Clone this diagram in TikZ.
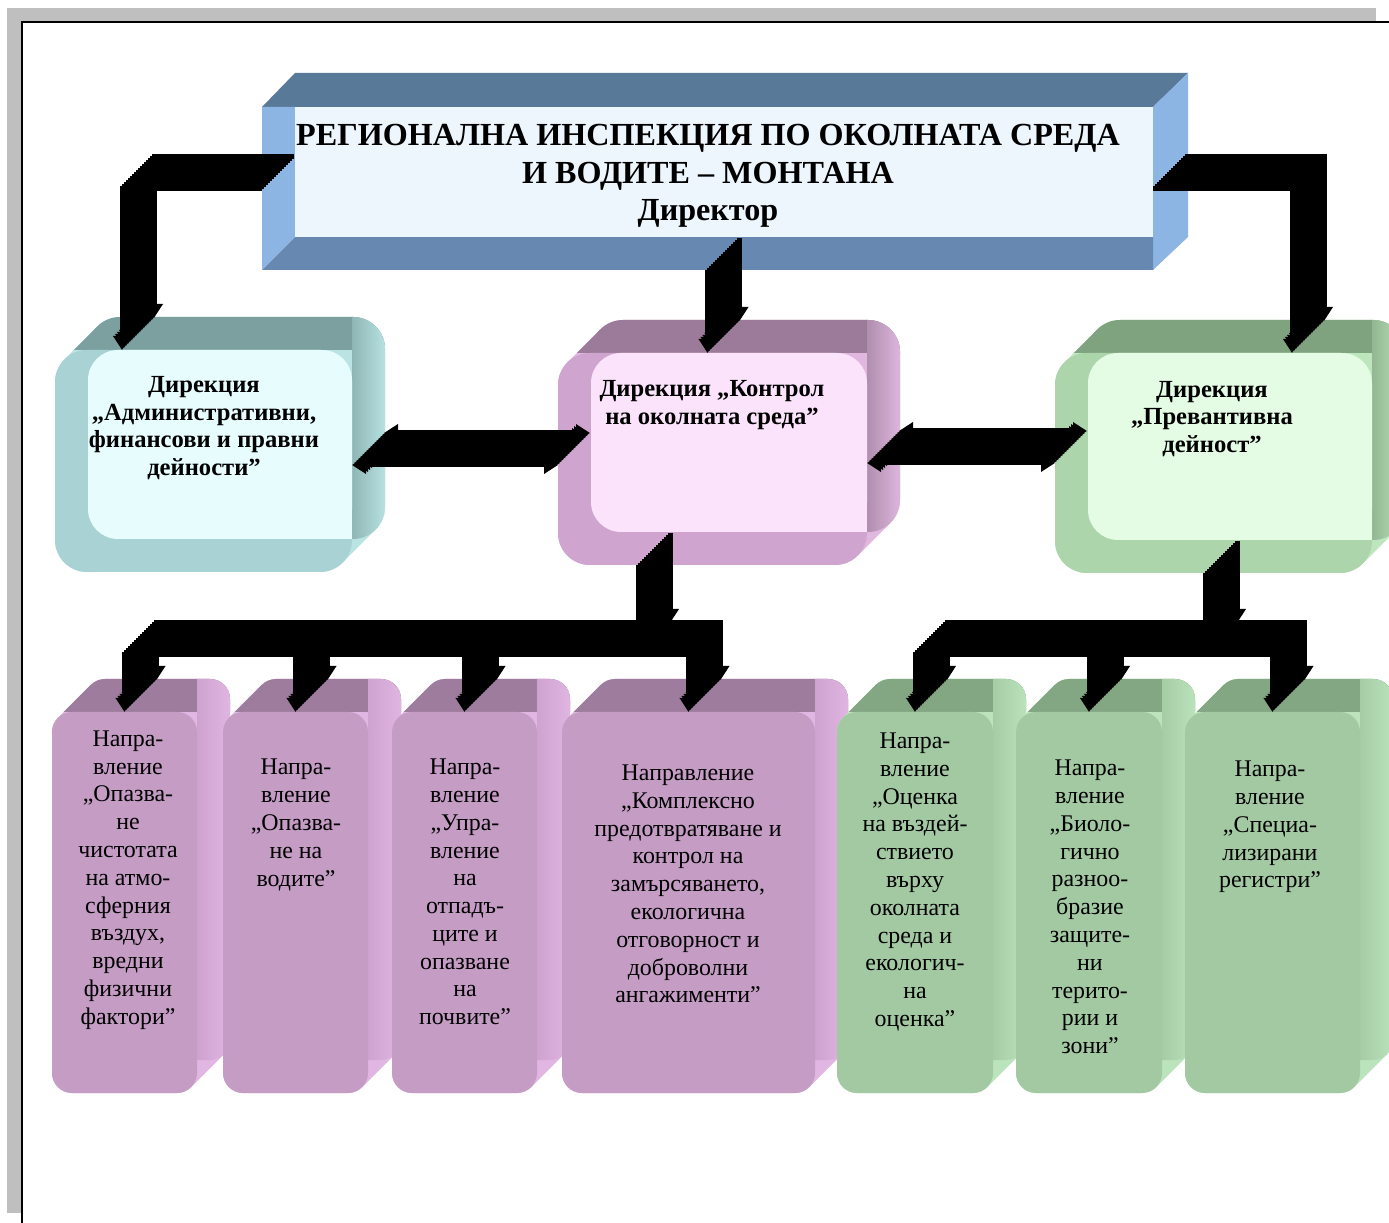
\documentclass[tikz,border=0pt]{standalone}
\usepackage{fontspec}
\setmainfont{Liberation Serif}
\usetikzlibrary{arrows.meta, calc, positioning}

% colours
\definecolor{framegray}{HTML}{BFBFBF}
\definecolor{hdtop}{HTML}{587A98}
\definecolor{hdbot}{HTML}{6788B0}
\definecolor{hdside}{HTML}{8DB5E3}
\definecolor{hdface}{HTML}{EEF6FD}
\definecolor{cytop}{HTML}{7BA09F}
\definecolor{cysd}{HTML}{8EB6B5}
\definecolor{cyside}{HTML}{BAE3E3}
\definecolor{cyfront}{HTML}{A8D2D3}
\definecolor{cypanel}{HTML}{E7FDFD}
\definecolor{pktop}{HTML}{9C7B9A}
\definecolor{pksd}{HTML}{B08EAE}
\definecolor{pkside}{HTML}{E0B8DF}
\definecolor{pkfront}{HTML}{CFA4CF}
\definecolor{pkpanel}{HTML}{FBE4FB}
\definecolor{grtop}{HTML}{7FA37F}
\definecolor{grsd}{HTML}{92B792}
\definecolor{grside}{HTML}{BDE6BD}
\definecolor{grfront}{HTML}{ACD5AC}
\definecolor{grpanel}{HTML}{E4FBE4}
\definecolor{putop}{HTML}{9E7C9E}
\definecolor{pusd}{HTML}{CFA3CF}
\definecolor{puside}{HTML}{E2B6E2}
\definecolor{pufront}{HTML}{C49CC4}
\definecolor{gbtop}{HTML}{82A782}
\definecolor{gbsd}{HTML}{A5CCA5}
\definecolor{gbside}{HTML}{BCE4BC}
\definecolor{gbfront}{HTML}{A3C9A3}

\tikzstyle{link} = [draw=black, line width=0.5mm, >={Triangle[width=1.7mm,length=1.4mm]}]
\tikzstyle{ttl} = [font=\bfseries\fontsize{9.15}{10.6}\selectfont, align=center, inner sep=0pt]
\tikzstyle{dir} = [font=\bfseries\fontsize{7}{7.9}\selectfont, align=center, inner sep=0pt]
\tikzstyle{sec} = [font=\fontsize{6.8}{7.9}\selectfont, align=center, inner sep=0pt]

\def\dd{33} % depth of the boxes

% box with depth: node name, front face x1,y1,x2,y2, palette, corner radius
\newcommand{\solidbox}[7]{%
  \pgfmathsetmacro{\kk}{0.293*#7}%
  \tikzset{rnd/.style={rounded corners={#7*0.1mm}}}%
  \fill[#6side, rnd] (#2,#3) rectangle (#4,#5);
  \fill[#6side, rnd] (#2+\dd,#3-\dd) rectangle (#4+\dd,#5-\dd);
  \fill[#6side] (#2+\kk,#3+\kk) -- ++(\dd,-\dd) -- (#4-\kk+\dd,#5-\kk-\dd) -- (#4-\kk,#5-\kk) -- cycle;
  \begin{scope}
    \clip (#2-2,#3-\dd-2) rectangle (#4+\dd+2,#3);
    \fill[#6top, rnd] (#2+\dd,#3-\dd) rectangle (#4+\dd,#5-\dd);
    \fill[#6top] (#2+\kk,#3+\kk) -- ++(\dd,-\dd) -- (#4-\kk+\dd,#5-\kk-\dd) -- (#4-\kk,#5-\kk) -- cycle;
  \end{scope}
  \begin{scope}
    \clip[rnd] (#2+\dd,#3-\dd) rectangle (#4+\dd,#5-\dd);
    \shade[left color=#6sd, right color=#6side] (#4,#3-\dd-2) rectangle (#4+\dd+2,#5);
  \end{scope}
  \node[fill=#6front, rnd, minimum width={(#4-#2)*0.1mm}, minimum height={(#5-#3)*0.1mm},
        inner sep=0pt, outer sep=0pt] (#1) at ({(#2+#4)/2},{(#3+#5)/2}) {};
}

% light panel on the front face
\newcommand{\panel}[5]{%
  \fill[#5panel, rounded corners=3mm] (#1+\dd,#2) rectangle (#3,#4-\dd);
  \fill[#5panel] (#3-30,#4-\dd-30) rectangle (#3,#4-\dd);
}

% black arrow with depth
\newcommand{\slab}[2][->]{%
  \foreach \s in {0,2,...,32}{%
    \begin{scope}[transform canvas={shift={(\s,-\s)}}]
      \draw[link,#1] #2;
    \end{scope}}}

\begin{document}
\begin{tikzpicture}[x=0.1mm, y=-0.1mm]
  \useasboundingbox (0,0) rectangle (1389,1223);
  \clip (0,0) rectangle (1389,1223);

  % page frame
  \fill[white] (0,0) rectangle (1389,1223);
  \fill[framegray] (7,8) rectangle (1376,1213);
  \fill[white] (22,22) rectangle (1389,1223);
  \draw[line width=0.25mm] (22,1223) -- (22,22) -- (1389,22);

  % head box
  \fill[hdtop] (262,107) -- (295,73) -- (1188,73) -- (1153,107) -- cycle;
  \fill[hdside] (1153,107) -- (1188,73) -- (1188,237) -- (1153,270) -- cycle;
  \fill[hdbot] (262,270) -- (295,237) -- (1153,237) -- (1153,270) -- cycle;
  \fill[hdside] (262,107) -- (295,107) -- (295,237) -- (262,270) -- cycle;
  \fill[hdface] (295,107) rectangle (1153,237);
  \node[minimum width=89.1mm, minimum height=16.3mm, inner sep=0pt, outer sep=0pt] (top) at (707.5,188.5) {};

  % directorates
  \solidbox{adm}{55}{350}{352}{572}{cy}{32}
  \panel{55}{350}{352}{572}{cy}
  \solidbox{ctrl}{558}{353}{867}{565}{pk}{32}
  \panel{558}{353}{867}{565}{pk}
  \solidbox{prev}{1055}{353}{1372}{573}{gr}{32}
  \panel{1055}{353}{1372}{573}{gr}

  % sections
  \solidbox{b1}{52}{712}{197}{1093}{pu}{20}
  \solidbox{b2}{223}{712}{368}{1093}{pu}{20}
  \solidbox{b3}{392}{712}{537}{1093}{pu}{20}
  \solidbox{b4}{562}{712}{815}{1093}{pu}{20}
  \solidbox{b5}{837}{712}{993}{1093}{gb}{20}
  \solidbox{b6}{1016}{712}{1162}{1093}{gb}{20}
  \solidbox{b7}{1185}{712}{1360}{1093}{gb}{20}

  % texts
  \node[ttl] (title) at (708,176) {РЕГИОНАЛНА ИНСПЕКЦИЯ ПО ОКОЛНАТА СРЕДА\\И ВОДИТЕ – МОНТАНА\\Директор};
  \node[dir] (tadm) at (204,428) {Дирекция\\„Административни,\\финансови и правни\\дейности”};
  \node[dir] (tctrl) at (712,405) {Дирекция „Контрол\\на околната среда”};
  \node[dir] (tprev) at (1212,419) {Дирекция\\„Превантивна\\дейност”};

  \node[sec] (t1) at (128,880) {Напра-\\вление\\„Опазва-\\не\\чистотата\\на атмо-\\сферния\\въздух,\\вредни\\физични\\фактори”};
  \node[sec] (t2) at (296,825) {Напра-\\вление\\„Опазва-\\не на\\водите”};
  \node[sec] (t3) at (465,892) {Напра-\\вление\\„Упра-\\вление\\на\\отпадъ-\\ците и\\опазване\\на\\почвите”};
  \node[sec] (t4) at (688,884) {Направление\\„Комплексно\\предотвратяване и\\контрол на\\замърсяването,\\екологична\\отговорност и\\доброволни\\ангажименти”};
  \node[sec] (t5) at (915,882) {Напра-\\вление\\„Оценка\\на въздей-\\ствието\\върху\\околната\\среда и\\екологич-\\на\\оценка”};
  \node[sec] (t6) at (1090,907) {Напра-\\вление\\„Биоло-\\гично\\разноо-\\бразие\\защите-\\ни\\терито-\\рии и\\зони”};
  \node[sec] (t7) at (1270,827) {Напра-\\вление\\„Специа-\\лизирани\\регистри”};

  % connectors
  \coordinate (cj) at (638,655);
  \coordinate (pj) at (1205,655);

  \slab{(top.west) -| ($(adm.north west)+(67,0)$)}
  \slab{(top.east) -| ($(prev.north east)+(-80,0)$)}
  \slab{(top.south) -- (top.south |- ctrl.north)}
  \slab[<->]{($(ctrl.west)+(0,6)$) -- ($(adm.east)+(0,4)$)}
  \slab[<->]{($(ctrl.east)+(0,4)$) -- (prev.west)}

  \slab{(cj |- ctrl.south) -- (cj)}
  \slab{(cj) -| (b1.north)}
  \slab{(cj) -| (b4.north)}
  \slab{(b2.north |- cj) -- (b2.north)}
  \slab{(b3.north |- cj) -- (b3.north)}

  \slab{(pj |- prev.south) -- (pj)}
  \slab{(pj) -| (b5.north)}
  \slab{(pj) -| (b7.north)}
  \slab{(b6.north |- pj) -- (b6.north)}
\end{tikzpicture}
\end{document}
